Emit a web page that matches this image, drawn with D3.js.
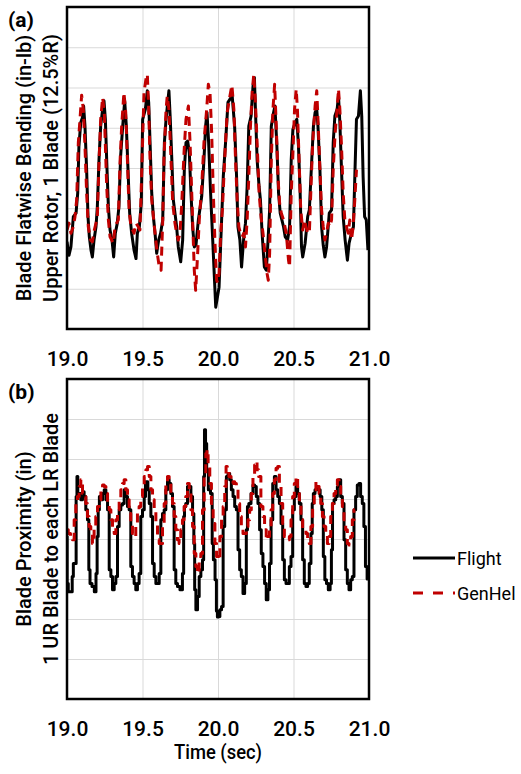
<!DOCTYPE html>
<html lang="en">
<head>
<meta charset="utf-8">
<title>Blade bending and proximity</title>
<script src="https://d3js.org/d3.v7.min.js"></script>
<style>
  body { margin: 0; background: #fff; }
  text { font-family: Roboto, "Liberation Sans", Arial, sans-serif; font-weight: 500; fill: #000; }
  .legend text { font-weight: normal; }
</style>
</head>
<body>
<script>
/////////////////// Data //////////////
var xTicks = [19.0, 19.5, 20.0, 20.5, 21.0];
var legendText = ["Flight", "GenHel"];

// (a) blade flatwise bending, [time sec, value in grid units]
var flightA = [
[19.000,2.17],[19.013,1.83],[19.026,2.04],[19.042,2.79],[19.060,2.88],[19.071,3.38],[19.079,4.54],[19.091,5.13],[19.102,5.25],[19.110,5.54],[19.119,5.04],[19.130,3.96],[19.139,2.79],[19.148,2.29],[19.159,1.96],[19.168,1.79],[19.179,2.21],[19.192,2.54],[19.201,3.04],[19.212,4.21],[19.223,5.04],[19.236,5.46],[19.245,5.67],[19.254,5.21],[19.265,3.96],[19.274,3.04],[19.285,2.46],[19.298,2.21],[19.309,1.79],[19.320,2.38],[19.333,2.63],[19.344,3.04],[19.355,4.29],[19.369,5.04],[19.382,5.67],[19.393,5.04],[19.404,3.96],[19.415,2.88],[19.428,2.38],[19.444,1.96],[19.457,1.75],[19.466,2.38],[19.479,2.54],[19.492,3.13],[19.501,5.21],[19.519,5.46],[19.532,5.92],[19.541,5.63],[19.550,4.63],[19.561,3.38],[19.572,2.79],[19.583,2.38],[19.594,1.88],[19.607,2.21],[19.620,2.38],[19.634,2.71],[19.645,4.63],[19.656,5.21],[19.667,5.63],[19.675,5.92],[19.684,5.21],[19.695,4.13],[19.704,3.21],[19.715,2.88],[19.726,2.54],[19.737,2.04],[19.753,1.67],[19.766,2.21],[19.777,3.96],[19.788,4.63],[19.799,4.67],[19.810,4.38],[19.821,3.38],[19.832,2.54],[19.843,2.04],[19.854,2.08],[19.870,2.71],[19.892,3.29],[19.907,4.21],[19.918,5.04],[19.927,5.38],[19.938,4.63],[19.951,3.38],[19.965,2.21],[19.976,1.29],[19.985,0.54],
[20.007,1.04],[20.018,2.13],[20.035,3.79],[20.050,4.63],[20.066,5.63],[20.079,5.71],[20.094,5.79],[20.110,5.04],[20.123,3.79],[20.132,2.54],[20.145,2.21],[20.156,1.54],[20.171,2.29],[20.182,2.63],[20.193,3.54],[20.204,5.04],[20.219,5.29],[20.232,6.04],[20.241,6.25],[20.250,5.21],[20.259,4.21],[20.272,3.54],[20.281,3.21],[20.292,2.38],[20.307,1.54],[20.320,1.46],[20.329,2.04],[20.342,2.96],[20.353,5.04],[20.368,5.38],[20.377,5.54],[20.390,4.54],[20.401,3.38],[20.412,2.88],[20.423,2.71],[20.434,2.54],[20.445,2.29],[20.461,2.21],[20.474,2.54],[20.485,4.21],[20.496,4.96],[20.511,5.13],[20.522,5.21],[20.533,4.54],[20.544,3.38],[20.553,2.04],[20.561,1.79],[20.577,2.13],[20.594,2.79],[20.605,2.96],[20.621,4.21],[20.632,5.04],[20.643,5.38],[20.654,5.46],[20.662,5.04],[20.675,3.96],[20.686,2.54],[20.697,2.08],[20.708,1.79],[20.719,2.04],[20.737,2.88],[20.752,2.96],[20.763,4.63],[20.774,5.29],[20.789,5.46],[20.798,5.79],[20.807,5.13],[20.818,3.96],[20.829,2.79],[20.842,2.21],[20.857,1.71],[20.868,2.13],[20.884,2.38],[20.897,2.54],[20.908,4.04],[20.917,5.21],[20.930,5.29],[20.943,5.92],[20.952,5.29],[20.961,3.79],[20.971,2.79],[20.982,2.71],[20.993,1.96]
];
var genhelA = [
[19.000,2.46],[19.013,2.63],[19.026,2.38],[19.042,2.54],[19.053,2.79],[19.064,3.21],[19.075,4.63],[19.086,5.21],[19.097,5.81],[19.108,5.46],[19.119,4.54],[19.130,3.38],[19.141,2.54],[19.157,2.21],[19.168,2.17],[19.181,2.46],[19.192,2.63],[19.201,2.79],[19.212,4.13],[19.223,5.21],[19.236,5.75],[19.247,5.38],[19.263,3.54],[19.274,2.71],[19.285,2.29],[19.296,2.21],[19.307,2.13],[19.318,2.54],[19.329,2.63],[19.340,2.71],[19.351,4.13],[19.362,5.04],[19.377,5.88],[19.389,5.38],[19.400,4.21],[19.411,2.96],[19.424,2.54],[19.435,2.46],[19.444,2.38],[19.457,2.63],[19.472,2.54],[19.483,2.46],[19.494,3.79],[19.510,5.88],[19.523,6.21],[19.532,6.33],[19.541,5.46],[19.550,4.21],[19.561,3.21],[19.572,2.79],[19.583,2.38],[19.598,1.88],[19.611,1.54],[19.623,1.46],[19.634,2.71],[19.642,4.21],[19.656,5.46],[19.664,5.79],[19.675,5.46],[19.687,4.38],[19.700,3.13],[19.715,2.63],[19.726,2.38],[19.737,2.21],[19.748,2.38],[19.759,3.04],[19.775,4.38],[19.788,5.21],[19.804,5.54],[19.815,4.63],[19.826,3.38],[19.837,2.13],[19.843,1.46],[19.852,0.96],[19.863,1.71],[19.876,2.71],[19.892,3.54],[19.907,4.63],[19.925,5.46],[19.936,6.08],[19.947,5.88],[19.958,4.88],[19.969,3.38],[19.980,2.13],[19.991,1.21],[19.998,1.15],
[20.007,1.38],[20.018,2.38],[20.029,2.96],[20.039,3.79],[20.050,4.63],[20.061,5.38],[20.079,5.79],[20.092,6.06],[20.105,5.46],[20.116,4.21],[20.127,3.21],[20.138,2.54],[20.149,2.38],[20.160,2.29],[20.171,2.38],[20.182,2.04],[20.193,2.71],[20.204,3.79],[20.215,5.04],[20.226,5.88],[20.237,6.33],[20.248,5.63],[20.259,4.63],[20.272,3.38],[20.285,2.79],[20.298,2.38],[20.311,1.88],[20.325,1.38],[20.333,1.21],[20.342,1.88],[20.353,4.21],[20.364,5.46],[20.375,6.08],[20.386,5.04],[20.397,3.79],[20.408,3.13],[20.419,2.88],[20.434,2.71],[20.452,2.38],[20.467,1.71],[20.474,1.54],[20.485,3.38],[20.496,4.38],[20.507,5.46],[20.518,5.96],[20.526,5.46],[20.537,4.21],[20.548,2.96],[20.561,2.46],[20.572,2.71],[20.583,2.54],[20.594,2.38],[20.605,2.38],[20.616,3.54],[20.627,4.63],[20.643,5.54],[20.654,5.92],[20.664,5.04],[20.675,3.96],[20.686,2.96],[20.697,2.54],[20.708,2.21],[20.719,2.38],[20.730,2.63],[20.741,2.54],[20.752,2.71],[20.763,3.96],[20.776,4.88],[20.792,5.63],[20.798,5.96],[20.807,5.46],[20.818,4.54],[20.829,3.38],[20.840,2.71],[20.851,2.54],[20.862,2.38],[20.873,2.71],[20.884,2.21],[20.895,2.54],[20.906,3.21],[20.917,3.96]
];

// (b) blade proximity
var flightB = [
[19.000,4.06],[19.002,2.89],[19.015,2.68],[19.031,2.68],[19.038,3.06],[19.046,3.39],[19.057,3.39],[19.064,5.06],[19.068,5.56],[19.075,5.06],[19.086,5.14],[19.097,4.98],[19.108,5.18],[19.119,5.06],[19.130,4.73],[19.141,4.48],[19.148,3.23],[19.157,2.89],[19.174,2.81],[19.188,2.68],[19.196,3.14],[19.203,4.06],[19.210,4.73],[19.219,5.06],[19.230,4.98],[19.241,5.14],[19.252,5.23],[19.263,4.98],[19.274,4.73],[19.285,3.23],[19.296,3.06],[19.307,2.73],[19.318,2.89],[19.329,3.06],[19.340,4.31],[19.351,4.73],[19.362,4.85],[19.373,4.89],[19.384,5.23],[19.395,5.06],[19.406,4.81],[19.417,4.73],[19.428,3.31],[19.439,3.06],[19.450,2.89],[19.461,2.73],[19.472,2.89],[19.483,3.14],[19.494,4.56],[19.506,4.73],[19.517,5.06],[19.523,5.43],[19.532,5.43],[19.539,5.23],[19.550,4.89],[19.561,4.56],[19.572,3.39],[19.583,3.06],[19.594,2.89],[19.605,2.89],[19.616,3.14],[19.627,4.48],[19.638,4.64],[19.649,4.73],[19.660,5.23],[19.671,5.48],[19.682,5.39],[19.693,5.14],[19.704,4.81],[19.715,3.23],[19.726,2.89],[19.737,2.81],[19.759,2.73],[19.770,3.14],[19.775,4.56],[19.781,4.81],[19.792,4.89],[19.804,5.31],[19.815,5.31],[19.826,5.06],[19.837,4.64],[19.843,3.89],[19.848,2.73],[19.859,2.23],[19.870,2.56],[19.881,3.06],[19.892,3.23],[19.903,3.48],[19.907,5.56],[19.914,6.73],[19.921,6.39],[19.929,5.73],[19.943,5.23],[19.958,5.14],[19.965,3.89],[19.974,3.48],[19.987,2.98],[19.992,2.20],[20.000,2.05],[20.007,2.06],[20.018,2.23],[20.029,2.31],[20.039,4.31],[20.050,4.73],[20.061,5.56],[20.072,5.64],[20.083,5.48],[20.094,5.23],[20.105,5.06],[20.116,4.81],[20.127,4.73],[20.138,3.73],[20.149,3.23],[20.160,3.06],[20.171,2.64],[20.182,2.89],[20.193,4.23],[20.197,4.81],[20.211,4.89],[20.226,5.14],[20.237,5.35],[20.248,5.31],[20.259,5.06],[20.270,4.89],[20.281,4.23],[20.292,3.64],[20.303,3.31],[20.314,2.89],[20.325,2.48],[20.336,2.73],[20.346,3.39],[20.357,4.48],[20.368,5.39],[20.379,5.56],[20.390,5.23],[20.401,5.06],[20.412,4.89],[20.423,4.39],[20.434,3.48],[20.445,2.98],[20.456,2.89],[20.467,2.89],[20.478,3.31],[20.489,3.56],[20.500,4.73],[20.511,5.06],[20.522,5.31],[20.533,5.14],[20.544,4.89],[20.555,4.48],[20.566,3.48],[20.577,2.89],[20.588,2.81],[20.599,2.89],[20.610,3.39],[20.621,4.14],[20.627,4.89],[20.636,5.14],[20.649,5.23],[20.658,5.31],[20.671,5.23],[20.682,5.06],[20.693,4.73],[20.702,3.56],[20.713,2.98],[20.724,2.89],[20.737,2.73],[20.748,2.89],[20.754,3.73],[20.763,4.89],[20.774,4.98],[20.785,5.06],[20.796,5.31],[20.807,5.48],[20.818,5.06],[20.829,4.89],[20.840,3.98],[20.851,3.23],[20.862,2.89],[20.873,2.73],[20.884,2.98],[20.895,3.06],[20.906,4.73],[20.917,5.06],[20.928,5.35],[20.939,5.39],[20.950,5.06],[20.961,4.89],[20.971,4.31],[20.982,3.31],[20.993,3.00]
];
var genhelB = [
[19.002,4.23],[19.015,4.14],[19.031,4.06],[19.042,3.98],[19.053,4.48],[19.064,4.89],[19.075,5.06],[19.086,5.31],[19.097,5.48],[19.108,5.14],[19.119,5.06],[19.130,4.89],[19.141,4.56],[19.152,4.31],[19.163,4.14],[19.174,3.89],[19.185,4.23],[19.196,4.56],[19.208,4.81],[19.219,4.98],[19.230,5.23],[19.241,5.35],[19.252,5.31],[19.263,5.14],[19.274,4.89],[19.285,4.73],[19.296,4.48],[19.307,4.23],[19.318,4.14],[19.329,4.48],[19.340,4.73],[19.351,4.98],[19.362,5.23],[19.373,5.39],[19.384,5.48],[19.395,5.23],[19.406,4.98],[19.417,4.64],[19.428,4.39],[19.439,4.14],[19.450,4.06],[19.461,4.39],[19.472,4.64],[19.483,4.81],[19.494,5.06],[19.506,5.31],[19.517,5.56],[19.528,5.73],[19.539,5.81],[19.550,5.56],[19.561,5.23],[19.572,4.98],[19.583,4.73],[19.594,4.39],[19.605,3.98],[19.616,3.89],[19.627,3.89],[19.638,4.31],[19.649,4.89],[19.660,5.39],[19.671,5.56],[19.682,5.48],[19.693,5.14],[19.704,4.89],[19.715,4.56],[19.726,4.23],[19.737,3.98],[19.748,3.89],[19.759,4.23],[19.770,4.48],[19.781,4.81],[19.792,5.06],[19.804,5.39],[19.815,5.14],[19.826,4.73],[19.837,4.31],[19.848,3.64],[19.859,3.31],[19.870,3.14],[19.881,3.56],[19.892,3.64],[19.903,4.73],[19.914,5.56],[19.925,6.14],[19.929,6.23],[19.940,5.89],[19.951,5.39],[19.962,4.89],[19.974,4.39],[19.985,3.89],[19.996,3.56],[20.007,3.48],[20.018,4.06],[20.029,4.56],[20.039,4.81],[20.050,5.31],[20.057,5.81],[20.066,5.75],[20.079,5.56],[20.094,5.39],[20.105,5.43],[20.116,5.39],[20.127,5.31],[20.138,4.89],[20.149,4.56],[20.160,4.31],[20.171,4.14],[20.182,4.14],[20.193,4.31],[20.204,4.48],[20.215,4.73],[20.226,5.14],[20.237,5.56],[20.248,5.85],[20.254,5.93],[20.263,5.73],[20.276,5.56],[20.292,4.81],[20.303,4.56],[20.314,4.23],[20.325,3.98],[20.336,4.06],[20.346,4.23],[20.357,4.73],[20.368,5.14],[20.379,5.48],[20.390,5.77],[20.401,5.81],[20.412,5.31],[20.423,4.89],[20.434,4.39],[20.445,4.06],[20.456,3.98],[20.467,3.98],[20.478,4.06],[20.489,4.48],[20.500,5.06],[20.511,5.39],[20.522,5.56],[20.533,5.31],[20.544,4.98],[20.555,4.48],[20.566,4.23],[20.577,4.23],[20.588,4.14],[20.599,3.98],[20.610,3.89],[20.621,4.31],[20.632,4.81],[20.643,5.23],[20.654,5.43],[20.664,5.31],[20.675,5.14],[20.686,4.89],[20.697,4.56],[20.708,4.31],[20.719,4.14],[20.730,3.89],[20.741,4.06],[20.752,4.56],[20.763,4.89],[20.774,5.14],[20.785,5.35],[20.796,5.48],[20.807,5.31],[20.818,5.06],[20.829,4.81],[20.840,4.48],[20.851,4.23],[20.862,3.89],[20.873,3.85],[20.884,4.06],[20.895,4.48],[20.906,4.73]
];

/////////////////// Layout //////////////
var width = 521, height = 774;
var red = "#C00000";

var svg = d3.select("body").append("svg")
    .attr("width", width)
    .attr("height", height);

svg.append("rect").attr("width", width).attr("height", height).attr("fill", "#fff");

var x = d3.scaleLinear().domain([19, 21]).range([67, 369]);

function panel(id, top, bottom, letter, title1, title2, flight, genhel, curve) {
  var y = d3.scaleLinear().domain([0, 8]).range([bottom, top]);
  var g = svg.append("g");

  g.append("clipPath").attr("id", "clip" + id)
    .append("rect")
    .attr("x", x.range()[0]).attr("y", top)
    .attr("width", x.range()[1] - x.range()[0]).attr("height", bottom - top);

  // grid
  g.append("g")
    .attr("transform", "translate(" + x.range()[0] + ",0)")
    .call(d3.axisLeft(y).tickValues(d3.range(1, 8)).tickSize(-(x.range()[1] - x.range()[0])).tickFormat(""))
    .call(function(s) { s.select(".domain").remove(); s.selectAll("line").attr("stroke", "#d9d9d9"); });
  g.append("g")
    .attr("transform", "translate(0," + bottom + ")")
    .call(d3.axisBottom(x).tickValues([19.5, 20, 20.5]).tickSize(-(bottom - top)).tickFormat(""))
    .call(function(s) { s.select(".domain").remove(); s.selectAll("line").attr("stroke", "#d9d9d9"); });

  var line = d3.line()
    .x(function(d) { return x(d[0]); })
    .y(function(d) { return y(d[1]); })
    .curve(curve);

  var lines = g.append("g").attr("clip-path", "url(#clip" + id + ")");
  lines.append("path").datum(flight)
    .attr("d", line).attr("fill", "none")
    .attr("stroke", "#000").attr("stroke-width", 3)
    .attr("stroke-linejoin", "round");
  lines.append("path").datum(genhel)
    .attr("d", line).attr("fill", "none")
    .attr("stroke", red).attr("stroke-width", 3)
    .attr("stroke-dasharray", "9,6")
    .attr("stroke-linejoin", "round");

  // frame
  g.append("rect")
    .attr("x", x.range()[0]).attr("y", top)
    .attr("width", x.range()[1] - x.range()[0]).attr("height", bottom - top)
    .attr("fill", "none").attr("stroke", "#000").attr("stroke-width", 2.5);

  // x tick labels
  g.append("g")
    .attr("transform", "translate(0," + bottom + ")")
    .call(d3.axisBottom(x).tickValues(xTicks).tickSize(0).tickPadding(22).tickFormat(d3.format(".1f")))
    .call(function(s) {
      s.select(".domain").remove();
      s.selectAll("text").attr("fill", "#000")
        .style("font-family", "Roboto, 'Liberation Sans', Arial, sans-serif")
        .style("font-weight", "500")
        .style("font-size", "21px");
    });

  // y titles
  var cy = (top + bottom) / 2;
  g.append("text")
    .attr("transform", "translate(31," + cy + ") rotate(-90)")
    .attr("text-anchor", "middle").style("font-size", "20px")
    .text(title1);
  g.append("text")
    .attr("transform", "translate(58," + cy + ") rotate(-90)")
    .attr("text-anchor", "middle").style("font-size", "20px")
    .text(title2);

  g.append("text")
    .attr("x", 8).attr("y", top + 20)
    .style("font-size", "21px").style("font-weight", "bold")
    .text(letter);
}

panel("a", 7, 329, "(a)", "Blade Flatwise Bending (in-lb)", "Upper Rotor, 1 Blade (12.5%R)",
      flightA, genhelA, d3.curveLinear);
panel("b", 379, 699, "(b)", "Blade Proximity (in)", "1 UR Blade to each LR Blade",
      flightB, genhelB, d3.curveStep);

svg.append("text")
  .attr("x", 218).attr("y", 759)
  .attr("text-anchor", "middle").style("font-size", "20px")
  .attr("textLength", 88).attr("lengthAdjust", "spacingAndGlyphs")
  .text("Time (sec)");

//============================== Legend
var legend = svg.selectAll("g.legend")
  .data(legendText)
  .enter().append("g")
  .attr("class", "legend")
  .attr("transform", function(d, i) { return "translate(413," + (558 + i * 35) + ")"; });

legend.append("line")
  .attr("x1", 0).attr("x2", 42)
  .attr("stroke", function(d, i) { return i == 0 ? "#000" : red; })
  .attr("stroke-width", 3)
  .attr("stroke-dasharray", function(d, i) { return i == 0 ? null : "10,10"; });

legend.append("text")
  .attr("x", 44).attr("y", 7)
  .style("font-size", "18px")
  .text(function(d) { return d; });
</script>
</body>
</html>
